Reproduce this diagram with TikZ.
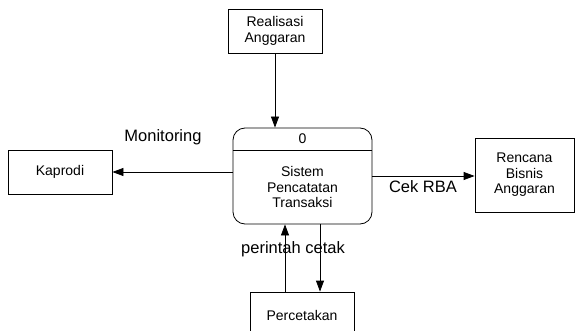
\documentclass[tikz,border=0pt]{standalone}
\usepackage{fontspec}
\setmainfont{Liberation Sans}
\usetikzlibrary{arrows.meta}
\begin{document}
\begin{tikzpicture}[x=1pt,y=-1pt,
  ent/.style={draw,line width=0.8pt,rectangle,inner sep=0pt,align=center,
    font=\fontsize{14}{15.5}\selectfont},
  flow/.style={draw,line width=0.8pt,-{Triangle[length=11pt,width=8pt]}},
  lbl/.style={font=\fontsize{16.5}{18}\selectfont,inner sep=0pt}]
\clip (0,0) rectangle (575,331);
\fill[white] (0,0) rectangle (575,331);
% entities
\node[ent,minimum width=94pt,minimum height=44pt] (real) at (275,31) {Realisasi\\Anggaran};
\node[ent,minimum width=104pt,minimum height=44pt] (kap) at (60,172) {Kaprodi};
\node[ent,minimum width=99pt,minimum height=74pt] (ren) at (524.5,175) {Rencana\\Bisnis\\Anggaran};
\node[ent,minimum width=104pt,minimum height=60pt] (perc) at (302,322) {};
\node[font=\fontsize{14}{15.5}\selectfont,inner sep=0pt] (perct) at (302,315) {Percetakan};
% process
\node[draw,line width=0.8pt,rounded corners=12pt,minimum width=139pt,minimum height=96pt,inner sep=0pt] (proc) at (302.5,176) {};
\coordinate (dl) at (233,150);
\coordinate (dr) at (372,150);
\draw[line width=0.8pt] (dl) -- (dr);
\node[font=\fontsize{14}{15.5}\selectfont,inner sep=0pt] (pnum) at (302.5,139) {0};
\node[align=center,font=\fontsize{14}{15.5}\selectfont,inner sep=0pt] (ptext) at (302.5,187) {Sistem\\Pencatatan\\Transaksi};
% flows
\draw[flow] (real.south) -- (proc.north -| real.south);
\draw[flow] (proc.west |- kap.east) -- (kap.east);
\draw[flow] (proc.east |- 0,176) -- (ren.west |- 0,176);
\draw[flow] (perc.north -| 285,0) -- (proc.south -| 285,0);
\draw[flow] (proc.south -| 320,0) -- (perc.north -| 320,0);
% labels
\node[lbl] (lmon) at (163,137) {Monitoring};
\node[lbl] (lcek) at (423,187) {Cek RBA};
\node[lbl] (lcet) at (293,249) {perintah cetak};
\end{tikzpicture}
\end{document}
